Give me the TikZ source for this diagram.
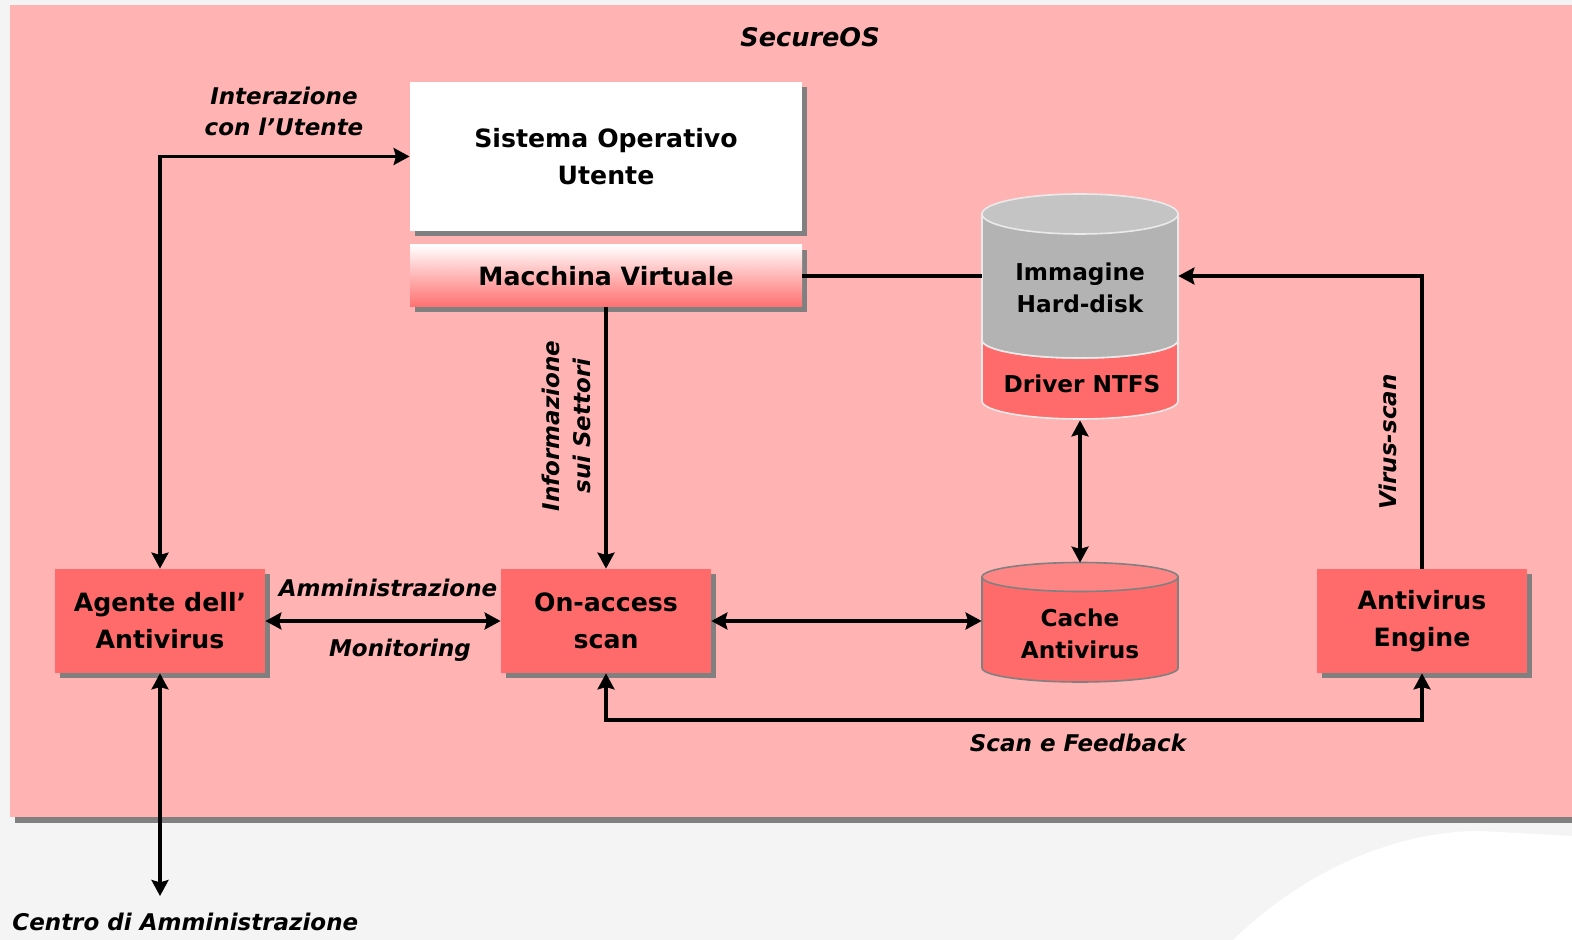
\documentclass[tikz,border=0pt]{standalone}
\usepackage{fontspec}
\setmainfont{DejaVu Sans}
\usetikzlibrary{arrows.meta,shadows}
\definecolor{pagebg}{HTML}{F4F4F4}
\definecolor{pinkbg}{HTML}{FFB3B3}
\definecolor{boxred}{HTML}{FF6B6B}
\definecolor{shadowgray}{HTML}{808080}
\definecolor{grayhd}{HTML}{B3B3B3}
\definecolor{grayhdtop}{HTML}{C4C4C4}
\definecolor{cachetop}{HTML}{FF8585}
\definecolor{gradbot}{HTML}{FF7070}
\definecolor{gradmid}{HTML}{FFB5B5}
\definecolor{cylline}{HTML}{EAEAEA}
\newcommand\boxfont{\fontsize{12.6}{18.5}\selectfont\bfseries}
\newcommand\lblfont{\fontsize{11.5}{15.5}\selectfont\bfseries\itshape}
\newcommand\cylfont{\fontsize{11.6}{16}\selectfont\bfseries}
\begin{document}
\begin{tikzpicture}[x=0.5pt,y=-0.5pt,
  >={Stealth[length=8pt,width=8.5pt,inset=1.2pt]},
  shad/.style={drop shadow={shadow xshift=2.5pt,shadow yshift=-2.5pt,fill=shadowgray,opacity=1}},
  redbox/.style={shad, fill=boxred, minimum width=105pt, minimum height=52pt, inner sep=0pt, align=center, font=\boxfont},
  lbl/.style={font=\lblfont, align=center, inner sep=0pt},
  cyltext/.style={font=\cylfont, align=center, inner sep=0pt},
  conn/.style={line width=1.6pt},
  holder/.style={inner sep=0pt, minimum width=98pt}
]
\useasboundingbox (0,0) rectangle (1572,940);
% page background
\fill[pagebg] (0,0) rectangle (1572,940);
\fill[white] (1233,940) .. controls (1300,875) and (1390,831) .. (1480,831) -- (1572,836) -- (1572,940) -- cycle;
% pink area with shadow
\fill[shadowgray] (15,817) rectangle (1572,823);
\fill[pinkbg] (10,5) rectangle (1572,817);

\node[lbl, font=\fontsize{12.8}{15}\selectfont\bfseries\itshape] (title) at (810,37) {SecureOS};

% upper boxes
\node[shad, fill=white, minimum width=196pt, minimum height=74.5pt, inner sep=0pt, align=center, font=\boxfont] (sys) at (606,156.5) {Sistema Operativo\\Utente};
\node[shad, top color=white, bottom color=gradbot, middle color=gradmid, minimum width=196pt, minimum height=31pt, inner sep=0pt, font=\boxfont] (mv) at (606,276) {Macchina Virtuale};

% lower boxes
\node[redbox] (ag) at (160,621) {Agente dell’\\Antivirus};
\node[redbox] (oa) at (606,621) {On-access\\scan};
\node[redbox] (eng) at (1422,621) {Antivirus\\Engine};

% hard-disk cylinder
\node[holder, minimum height=113pt] (hd) at (1080,307) {};
\filldraw[fill=boxred, draw=cylline, line width=0.8pt] (982,340) -- (982,401) arc[start angle=180, end angle=0, x radius=98, y radius=18] -- (1178,340) arc[start angle=0, end angle=180, x radius=98, y radius=18] -- cycle;
\filldraw[fill=grayhd, draw=cylline, line width=0.8pt] (982,214) -- (982,340) arc[start angle=180, end angle=0, x radius=98, y radius=18] -- (1178,214) -- cycle;
\filldraw[fill=grayhdtop, draw=cylline, line width=0.8pt] (1080,214) ellipse[x radius=98, y radius=20];
\node[cyltext] (hdtxt) at (1080,288) {Immagine\\Hard-disk};
\node[cyltext] (ntfs) at (1082,384) {Driver NTFS};

% cache cylinder
\node[holder, minimum height=59.5pt] (cache) at (1080,622.5) {};
\filldraw[fill=boxred, draw=shadowgray, line width=0.8pt] (982,577) -- (982,668) arc[start angle=180, end angle=0, x radius=98, y radius=14] -- (1178,577) -- cycle;
\filldraw[fill=cachetop, draw=shadowgray, line width=0.8pt] (1080,577) ellipse[x radius=98, y radius=14.5];
\node[cyltext] (cachetxt) at (1080,634) {Cache\\Antivirus};

% connectors
\coordinate (centro) at (160,896);
\draw[conn,<->] (ag.north) |- (sys.west);
\draw[conn,<->] (ag.south) -- (centro);
\draw[conn,<->] (ag.east) -- (oa.west);
\draw[conn,->] (mv.south) -- (oa.north);
\draw[conn,<->] (oa.east) -- (cache.west |- oa.east);
\draw[conn,<->] (hd.south) -- (cache.north);
\draw[conn] (mv.east) -- (hd.west |- mv.east);
\draw[conn,->] (eng.north) |- (hd.east |- mv.east);
\draw[conn,<->] (oa.south) -- (oa.south |- 0,720) -| (eng.south);

% labels
\node[lbl] (linter) at (284,111) {Interazione\\con l’Utente};
\node[lbl] (lamm) at (388,588) {Amministrazione};
\node[lbl] (lmon) at (400,650) {Monitoring};
\node[lbl, rotate=90] (linfo) at (566,426) {Informazione\\sui Settori};
\node[lbl, rotate=90] (lvirus) at (1388,442) {Virus-scan};
\node[lbl] (lscan) at (1078,743) {Scan e Feedback};
\node[lbl, anchor=west] (lcentro) at (12,922) {Centro di Amministrazione};
\end{tikzpicture}
\end{document}
